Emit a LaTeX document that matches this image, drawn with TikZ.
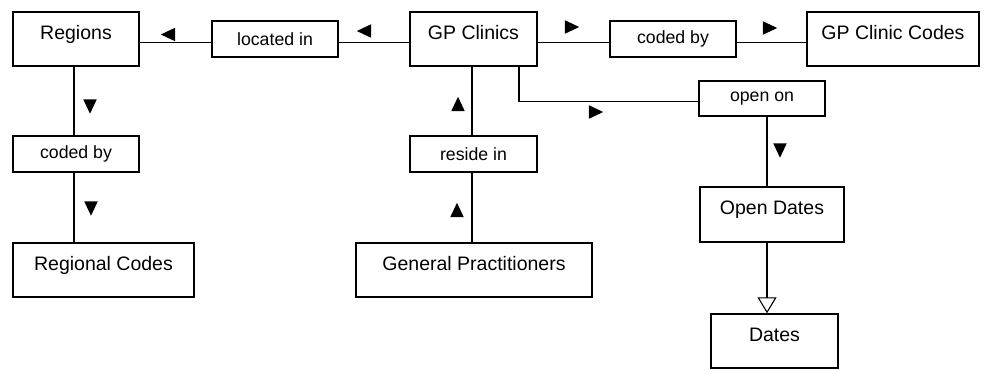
\documentclass[tikz,border=0pt]{standalone}
\usepackage{fontspec}
\setmainfont{Liberation Sans}
\usetikzlibrary{shapes.geometric,arrows.meta}
\begin{document}
\begin{tikzpicture}[x=1pt,y=-1pt,
  entity/.style={draw=black,line width=1.4pt,minimum height=54pt,inner sep=0pt,
    text height=14pt,text depth=14pt,font=\fontsize{19.5}{23}\selectfont},
  relbox/.style={draw=black,line width=1.3pt,minimum height=36pt,minimum width=126pt,inner sep=0pt,
    font=\fontsize{17.7}{21}\selectfont},
  conn/.style={line width=1.1pt,draw=black},
  trimark/.pic={\fill[black] (7.2,0) -- (-7.2,6.8) -- (-7.2,-6.8) -- cycle;},
]
\useasboundingbox (0,0) rectangle (990,370);
% entities
\node[entity,minimum width=126pt] (reg) at (76,39) {Regions};
\node[entity,minimum width=127pt] (gp) at (473.5,39) {GP Clinics};
\node[entity,minimum width=172pt] (gpc) at (893,39) {GP Clinic Codes};
\node[entity,minimum width=181pt] (rc) at (103.5,270) {Regional Codes};
\node[entity,minimum width=236pt] (gpr) at (474,270) {General Practitioners};
\node[entity,minimum width=144pt,minimum height=55pt] (od) at (772,214.5) {Open Dates};
\node[entity,minimum width=127pt] (dates) at (774.5,341) {Dates};
% relationships
\node[relbox] (loc) at (275,39) {located in};
\node[relbox] (codR) at (673,39) {coded by};
\node[relbox] (codL) at (76,154) {coded by};
\node[relbox,minimum width=127pt] (res) at (473.5,154) {reside in};
\node[relbox,minimum height=35pt] (open) at (762,98.5) {open on};
% connectors
\draw[conn] ([yshift=-3.5pt]reg.east) -- ([yshift=-3.5pt]loc.west);
\draw[conn] ([yshift=-3.5pt]loc.east) -- ([yshift=-3.5pt]gp.west);
\draw[conn] ([yshift=-3.5pt]gp.east) -- ([yshift=-3.5pt]codR.west);
\draw[conn] ([yshift=-3.5pt]codR.east) -- ([yshift=-3.5pt]gpc.west);
\draw[conn] ([xshift=-2pt]reg.south) -- ([xshift=-2pt]codL.north);
\draw[conn] ([xshift=-2pt]codL.south) -- ([xshift=-2pt]codL.south |- rc.north);
\draw[conn] ([xshift=-1.5pt]gp.south) -- ([xshift=-1.5pt]res.north);
\draw[conn] ([xshift=-1.5pt]res.south) -- ([xshift=-1.5pt]res.south |- gpr.north);
\draw[conn] ([xshift=45.5pt]gp.south) |- ([yshift=-3pt]open.west);
\draw[conn] ([xshift=5pt]open.south) -- ([xshift=5pt]open.south |- od.north);
\draw[conn,-{Triangle[open,width=19pt,length=16pt]}] ([xshift=-5pt]od.south) -- ([xshift=-5pt]od.south |- dates.north);
% direction markers
\pic[rotate=180] (t1) at (168,34.5) {trimark};
\pic[rotate=180] (t2) at (364,31) {trimark};
\pic (t3) at (572,27) {trimark};
\pic (t4) at (770,28) {trimark};
\pic[rotate=-90] (t5) at (90,106.5) {trimark};
\pic[rotate=-90] (t6) at (91,208.5) {trimark};
\pic[rotate=90] (t7) at (458,104) {trimark};
\pic[rotate=90] (t8) at (457,210) {trimark};
\pic (t9) at (596,112) {trimark};
\pic[rotate=-90] (t10) at (780,150.5) {trimark};
\end{tikzpicture}
\end{document}
